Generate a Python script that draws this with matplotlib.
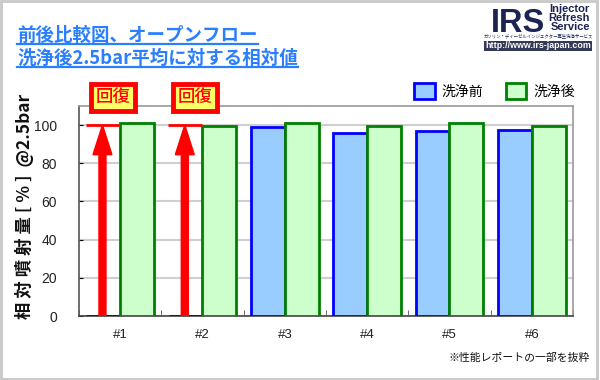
import matplotlib
matplotlib.use('Agg')
import matplotlib.pyplot as plt
import numpy as np
from matplotlib.patches import Rectangle, FancyArrow
from matplotlib.lines import Line2D

# data
categories = ['#1', '#2', '#3', '#4', '#5', '#6']
before = [0, 0, 99.0, 95.6, 96.9, 97.4]
after = [100.9, 99.6, 100.9, 99.5, 101.2, 99.5]
series_names = ['洗浄前', '洗浄後']
recovered = [0, 1]      # injectors with no flow before cleaning
target = 100
yticks = [0, 20, 40, 60, 80, 100]

jp = ['Noto Sans CJK JP', 'DejaVu Sans']
latin = ['Liberation Sans', 'DejaVu Sans']
narrow = ['Liberation Sans Narrow', 'Liberation Sans', 'DejaVu Sans']

fig = plt.figure(figsize=(6, 3.8), dpi=100)
W, H = 600, 380

def fx(px):
    return px / W

def fy(py):
    return 1 - py / H

ax = fig.add_axes([fx(79), fy(316), fx(573) - fx(79), fy(106) - fy(316)])

x = np.arange(len(categories))
bw = 0.41
ax.bar(x - 0.205, before, bw, color='#99ccff', edgecolor='#0000ff', linewidth=2, zorder=3, label=series_names[0])
ax.bar(x + 0.205, after, bw, color='#ccffcc', edgecolor='#008000', linewidth=2, zorder=3, label=series_names[1])

# recovery arrows
for i in recovered:
    xc = x[i] - 0.215
    ax.hlines(target, xc - 0.205, xc + 0.205, color='red', linewidth=2, zorder=4)
    ax.add_patch(FancyArrow(xc, 0, 0, target, width=0.085, head_width=0.23, head_length=15.5,
                            length_includes_head=True, color='red', zorder=5))
    ax.text(x[i] - 0.09, 114.5, '回復', color='red', fontsize=12.5, family=jp, weight='medium',
            ha='center', va='center', clip_on=False, zorder=6,
            bbox=dict(boxstyle='square,pad=0.28', fc='#ffff66', ec='red', lw=3.5))

ax.set_xlim(-0.5, len(categories) - 0.5)
ax.set_ylim(0, 110)
ax.set_yticks(yticks)
ax.set_xticks(x)
ax.set_xticklabels(categories)
ax.set_xticks(np.arange(len(categories) + 1) - 0.5, minor=True)
ax.tick_params(axis='x', which='major', length=0, pad=9, labelsize=9.5, labelcolor='#222')
ax.tick_params(axis='x', which='minor', length=4, direction='in', color='#555')
ax.tick_params(axis='y', length=3, direction='in', labelsize=10, labelcolor='#222', pad=16)
for lab in ax.get_xticklabels() + ax.get_yticklabels():
    lab.set_family(latin)
ax.grid(axis='y', color='#cfcfcf', linewidth=1.5, zorder=0)
ax.set_axisbelow(True)
ax.spines['left'].set_color('#555')
ax.spines['bottom'].set_color('#444')
ax.spines['top'].set_color('#999')
ax.spines['right'].set_color('#999')
for s in ax.spines.values():
    s.set_linewidth(1.2)

leg = ax.legend(ncol=2, loc='lower right', bbox_to_anchor=(fx(575), fy(99)),
                bbox_transform=fig.transFigure, frameon=False, prop={'family': jp, 'size': 10},
                handlelength=1.5, handleheight=1.45, columnspacing=1.6, handletextpad=0.5,
                borderaxespad=0, borderpad=0)

fig.text(fx(24), fy(206), '相 対 噴 射 量 [ % ]  @2.5bar', rotation=90, ha='center', va='center',
         fontsize=12.5, weight='bold', family=jp, color='#111')

# title with underline
title_color = '#2a7fff'
t1 = fig.text(fx(17), fy(41), '前後比較図、オープンフロー', fontsize=13.3, weight='bold', family=jp,
              color=title_color, va='baseline')
t2 = fig.text(fx(17), fy(64), '洗浄後2.5bar平均に対する相対値', fontsize=13.3, weight='bold', family=jp,
              color=title_color, va='baseline')
fig.canvas.draw()
r = fig.canvas.get_renderer()
for t, uy in [(t1, 44), (t2, 67)]:
    bb = t.get_window_extent(r)
    fig.add_artist(Line2D([bb.x0 / W, bb.x1 / W], [fy(uy), fy(uy)], color=title_color, linewidth=1.6,
                          transform=fig.transFigure))

# logo
navy = '#1c2452'
fig.text(fx(491), fy(31.5), 'IRS', fontsize=23.5, weight='bold', family=narrow,
         color=navy, va='baseline')
fig.text(fx(590), fy(4), 'Injector\nRefresh\nService', fontsize=8.0, weight='bold', family=narrow,
         color=navy, ha='right', va='top', multialignment='right', linespacing=0.85)
fig.text(fx(538), fy(38.5), 'ガソリン・ディーゼルインジェクター再生洗浄サービス', fontsize=3.2, family=jp,
         color=navy, ha='center', va='baseline')
fig.text(fx(538), fy(46), 'http://www.irs-japan.com', fontsize=6.4, weight='bold', family=latin,
         color='white', ha='center', va='center',
         bbox=dict(boxstyle='square,pad=0.08', fc='#333a55', ec='none'))

fig.text(fx(590), fy(361), '※性能レポートの一部を抜粋', fontsize=7.8, family=jp, color='#111',
         ha='right', va='baseline')

# outer frame
fig.add_artist(Rectangle((fx(1), fy(379)), fx(596), fy(1) - fy(379), fill=False, ec='#c8c8c8', lw=2,
                         transform=fig.transFigure))

fig.savefig('out.png', dpi=100)
